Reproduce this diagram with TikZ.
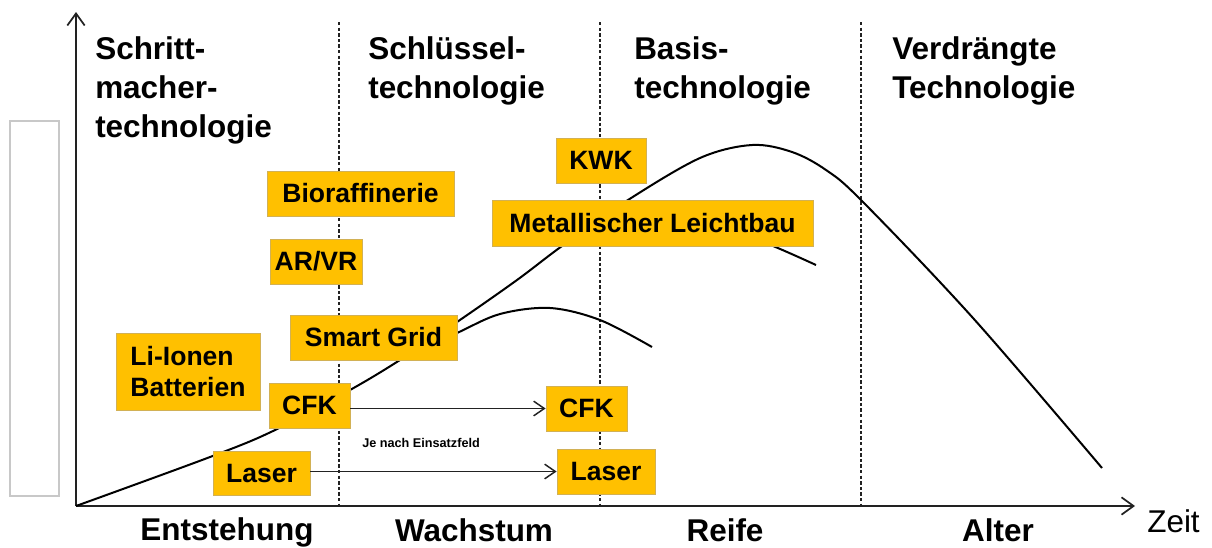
\documentclass[tikz,border=0pt]{standalone}
\usepackage{fontspec}
\setmainfont{Liberation Sans}
\usetikzlibrary{arrows.meta}
\definecolor{boxfill}{HTML}{FFC000}
\definecolor{boxline}{HTML}{D2B155}
\definecolor{inkgray}{HTML}{222222}
\definecolor{framegray}{HTML}{C8C8C8}
\hyphenpenalty=10000
\exhyphenpenalty=10000

\begin{document}
\begin{tikzpicture}[x=0.75pt, y=-0.75pt,
  axisline/.style={draw=inkgray, line width=1.5pt,
    -{Straight Barb[length=9pt, width=13pt, line width=1.3pt]}},
  phase/.style={draw=inkgray, line width=1.1pt, dash pattern=on 2.6pt off 1.6pt},
  curve/.style={draw=black, line width=1.5pt, smooth, tension=0.55},
  tbox/.style={draw=boxline, line width=0.6pt, fill=boxfill, inner sep=0pt,
    font=\bfseries\fontsize{19.9}{23.25}\selectfont,
    text height=14.2pt, text depth=0pt, align=left},
  moveon/.style={draw=inkgray, line width=1.3pt,
    -{Straight Barb[length=8pt, width=11pt, line width=1.1pt]}},
  heading/.style={anchor=base west, inner sep=0pt, text width=220pt, align=left,
    font=\bfseries\fontsize{23.6}{29.6}\selectfont},
  stage/.style={anchor=base, inner sep=0pt, font=\bfseries\fontsize{23.6}{28}\selectfont},
  note/.style={anchor=base west, inner sep=0pt, font=\bfseries\fontsize{9.5}{11}\selectfont}
]
\useasboundingbox (0,0) rectangle (1212,547);

% empty frame on the left
\draw[framegray, line width=0.8pt] (10,121) rectangle (59,496);

% phase separators
\foreach \xx in {339,600,861}
  \draw[phase] (\xx,22) -- (\xx,506);

% axes
\coordinate (O) at (76,506);
\coordinate (ytop) at (76,12);
\coordinate (xend) at (1135,506);
\draw[axisline] (O) -- (ytop);
\draw[axisline] (O) -- (xend);
\node[anchor=base west, inner sep=0pt, font=\fontsize{23.6}{28}\selectfont] (zeit) at (1147,532) {Zeit};

% life-cycle curves
\draw[curve] plot coordinates {(76,506) (210,457) (273,431) (350,390) (400,360)
  (457,322) (517,280) (562,246) (628,200) (700,158) (752,145) (792,152)
  (826,170) (862,201) (973,318) (1102,468)};
\draw[curve] plot coordinates {(405,357) (457,333) (500,314) (550,308) (600,320) (652,347)};
\draw[curve] plot coordinates {(650,214) (720,226) (773,246) (816,265)};

% phase headings
\node[heading] (h1) at (95,59) {Schritt-\\macher-\\technologie};
\node[heading] (h2) at (368,59) {Schlüssel-\\technologie};
\node[heading] (h3) at (634,59) {Basis-\\technologie};
\node[heading] (h4) at (892,59) {Verdrängte\\Technologie};

% phase names on the time axis
\node[stage] (s1) at (227,540) {Entstehung};
\node[stage] (s2) at (474,541) {Wachstum};
\node[stage] (s3) at (725,541) {Reife};
\node[stage] (s4) at (998,541) {Alter};

% technologies
\node[tbox, minimum width=108pt, minimum height=57.75pt, text height=37.45pt] (li) at (188,371.5) {Li-Ionen\\Batterien};
\node[tbox, minimum width=140.25pt, minimum height=33.75pt] (bio) at (360.5,193.5) {Bioraffinerie};
\node[tbox, minimum width=69pt, minimum height=33.75pt] (arvr) at (316,261.5) {AR/VR};
\node[tbox, minimum width=125.25pt, minimum height=33.75pt] (sg) at (373.5,337.5) {Smart Grid};
\node[tbox, minimum width=60.75pt, minimum height=33.75pt] (cfkA) at (309.5,405.5) {CFK};
\node[tbox, minimum width=72.75pt, minimum height=33pt] (laserA) at (261.5,473) {Laser};
\node[tbox, minimum width=60.75pt, minimum height=33.75pt] (cfkB) at (586.5,408.5) {CFK};
\node[tbox, minimum width=73.5pt, minimum height=33.75pt] (laserB) at (606,471.5) {Laser};
\node[tbox, minimum width=67.5pt, minimum height=33.75pt] (kwk) at (601,160.5) {KWK};
\node[tbox, minimum width=240.75pt, minimum height=34.5pt] (metall) at (652.5,223) {Metallischer Leichtbau};

% technologies that move on to the next phase
\draw[moveon] (cfkA.east |- cfkB.west) -- (cfkB.west);
\draw[moveon] (laserA.east |- laserB.west) -- (laserB.west);
\node[note] (einsatz) at (362,447) {Je nach Einsatzfeld};
\end{tikzpicture}
\end{document}
